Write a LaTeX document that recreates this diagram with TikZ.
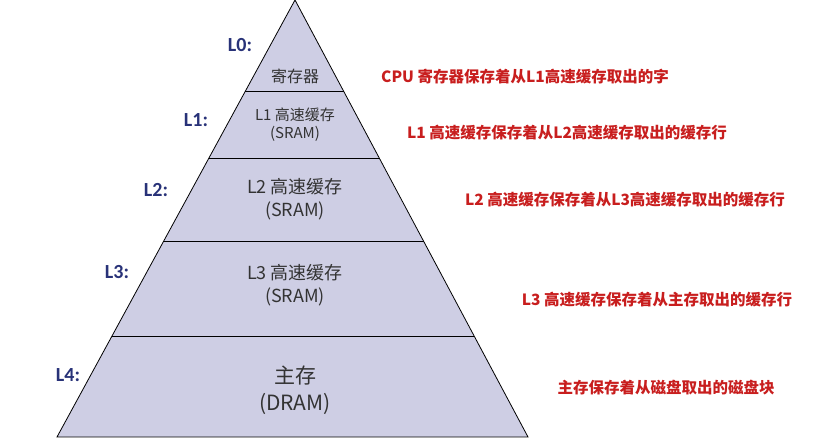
\documentclass[tikz,border=0pt]{standalone}
\usepackage{fontspec}
\setmainfont{Carlito}
\newfontfamily\cjk{Noto Sans CJK SC}
\definecolor{pyr}{RGB}{206,206,228}
\definecolor{navy}{RGB}{40,50,120}
\definecolor{redt}{RGB}{200,30,30}
\begin{document}
\begin{tikzpicture}[x=1pt,y=-1pt,
  lvl/.style={text=navy,font=\bfseries\fontsize{20}{22}\selectfont},
  desc/.style={text=redt,font=\cjk\bfseries\fontsize{15.5}{18}\selectfont},
  inner/.style={align=center,text=black!80,font=\cjk\fontsize{15}{18}\selectfont}]
\useasboundingbox (0,0) rectangle (836,443);
\coordinate (apex) at (295,0);
\coordinate (bl) at (57,437);
\coordinate (br) at (528,437);
\fill[pyr,draw=black,line width=0.8pt] (apex) -- (br) -- (bl) -- cycle;
\foreach \y/\l/\r in {91/245.4/343.5,158/209/379,241/164/423.5,336/112/474}
  \draw[line width=0.8pt] (\l,\y) -- (\r,\y);
\node[lvl] (l0) at (240,45) {L0:};
\node[lvl] (l1) at (196,120) {L1:};
\node[lvl] (l2) at (156,190) {L2:};
\node[lvl] (l3) at (117,272) {L3:};
\node[lvl] (l4) at (68,375) {L4:};
\node[inner,font=\cjk\fontsize{16}{18}\selectfont] (n0) at (295,76) {寄存器};
\node[inner] (n1) at (295,125) {L1 高速缓存\\(SRAM)};
\node[inner,font=\cjk\fontsize{18}{23}\selectfont] (n2) at (295,199) {L2 高速缓存\\(SRAM)};
\node[inner,font=\cjk\fontsize{18}{23}\selectfont] (n3) at (295,285) {L3 高速缓存\\(SRAM)};
\node[inner,font=\cjk\fontsize{21}{27}\selectfont] (n4) at (295,390) {主存\\(DRAM)};
\node[desc] (d0) at (525,77) {CPU 寄存器保存着从L1高速缓存取出的字};
\node[desc] (d1) at (567,133) {L1 高速缓存保存着从L2高速缓存取出的缓存行};
\node[desc] (d2) at (625,200) {L2 高速缓存保存着从L3高速缓存取出的缓存行};
\node[desc] (d3) at (657,300) {L3 高速缓存保存着从主存取出的缓存行};
\node[desc] (d4) at (666,388) {主存保存着从磁盘取出的磁盘块};
\end{tikzpicture}
\end{document}
